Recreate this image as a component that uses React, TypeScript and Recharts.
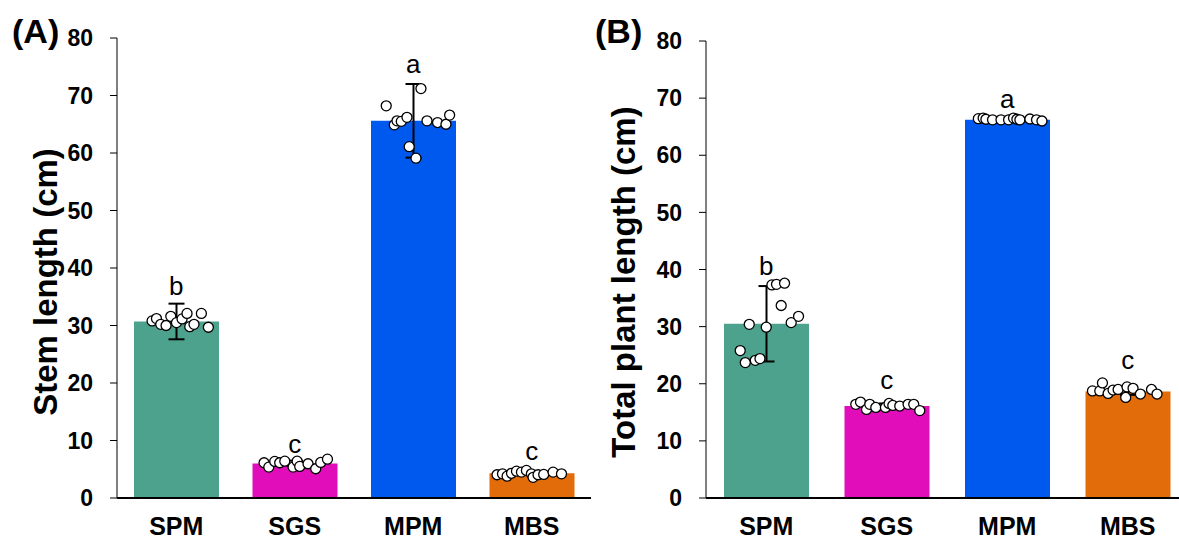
import React from 'react'
import { ComposedChart, Bar, Cell, ErrorBar, Scatter, XAxis, YAxis, Label } from 'recharts'

const categories = ['SPM', 'SGS', 'MPM', 'MBS']
const barColors = ['#4DA28E', '#E10DBA', '#0059EE', '#E36C0A']
const yTicks = [0, 10, 20, 30, 40, 50, 60, 70, 80]

// (A) stem length
const stemMean = [30.7, 6.0, 65.6, 4.3]
const stemSd = [3.1, 0.5, 6.4, 0.3]
const stemLetters = ['b', 'c', 'a', 'c']
const stemLetterY = [35.3, 7.8, 73.9, 6.6]
const stemDotOffsets = [
    [-0.204, -0.167, -0.131, -0.086, -0.046, 0.002, 0.049, 0.091, 0.114, 0.15, 0.212, 0.271],
    [-0.259, -0.219, -0.169, -0.127, -0.084, -0.014, 0.02, 0.042, 0.112, 0.177, 0.219, 0.276],
    [-0.228, -0.16, -0.137, -0.101, -0.053, -0.034, 0.023, 0.065, 0.116, 0.205, 0.276, 0.307],
    [-0.293, -0.247, -0.208, -0.171, -0.129, -0.087, -0.045, -0.003, 0.011, 0.053, 0.101, 0.18, 0.251],
]
const stemDotValues = [
    [30.8, 31.2, 30.2, 30.0, 31.6, 30.5, 31.15, 32.1, 29.8, 30.2, 32.1, 29.7],
    [6.13, 5.37, 6.36, 6.13, 6.41, 5.37, 6.41, 5.49, 5.96, 5.09, 6.18, 6.76],
    [68.2, 64.9, 65.6, 65.5, 66.2, 61.1, 59.1, 71.2, 65.6, 65.3, 65.0, 66.6],
    [4.04, 4.2, 3.8, 4.3, 4.67, 4.5, 4.8, 4.2, 3.6, 4.04, 4.1, 4.5, 4.2],
]

// (B) total plant length
const totalMean = [30.5, 16.1, 66.2, 18.65]
const totalSd = [6.6, 0.45, 0.2, 0.6]
const totalLetters = ['b', 'c', 'a', 'c']
const totalLetterY = [39.05, 19.0, 68.3, 22.6]
const totalDotOffsets = [
    [-0.216, -0.174, -0.141, -0.091, -0.052, 0.0, 0.047, 0.085, 0.124, 0.152, 0.207, 0.268],
    [-0.257, -0.218, -0.168, -0.141, -0.091, -0.011, 0.019, 0.05, 0.108, 0.177, 0.224, 0.274],
    [-0.24, -0.2, -0.177, -0.122, -0.052, 0.011, 0.052, 0.08, 0.105, 0.188, 0.243, 0.288],
    [-0.293, -0.232, -0.21, -0.163, -0.122, -0.08, -0.017, -0.006, 0.044, 0.105, 0.197, 0.243],
]
const totalDotValues = [
    [25.8, 23.7, 30.4, 24.1, 24.4, 29.9, 37.3, 37.4, 33.7, 37.6, 30.7, 31.8],
    [16.4, 16.8, 15.5, 16.4, 15.85, 15.85, 16.55, 16.2, 16.1, 16.4, 16.4, 15.3],
    [66.4, 66.5, 66.3, 66.2, 66.2, 66.2, 66.5, 66.3, 66.2, 66.35, 66.2, 66.0],
    [18.75, 18.75, 20.15, 18.3, 18.9, 19.0, 17.6, 19.45, 19.2, 18.2, 19.0, 18.2],
]

const FONT = '"Liberation Sans", Arial, sans-serif'

const Dot = (p: any) => <circle cx={p.cx} cy={p.cy} r={5} fill="#fff" stroke="#000" strokeWidth={1.3} />

const Letter = (p: any) => (
    <text x={p.cx} y={p.cy} textAnchor="middle" fontFamily={FONT} fontSize={26} fill="#000">
        {p.payload.letter}
    </text>
)

interface PanelProps {
    panel: string
    title: string
    means: number[]
    sds: number[]
    letters: string[]
    letterY: number[]
    dotOffsets: number[][]
    dotValues: number[][]
    width: number
    axisWidth: number
    top: number
    titleX: number
    panelX: number
}

function Panel({ panel, title, means, sds, letters, letterY, dotOffsets, dotValues, width, axisWidth, top, titleX, panelX }: PanelProps) {
    const bars = categories.map((name, i) => ({ name, mean: means[i], sd: sds[i] }))
    const dots = dotValues.flatMap((vals, i) => vals.map((v, j) => ({ x: i + dotOffsets[i][j], y: v })))
    const marks = letters.map((letter, i) => ({ x: i, y: letterY[i], letter }))

    const Titles = () => (
        <g>
            <text x={panelX} y={43} fontFamily={FONT} fontWeight="bold" fontSize={34} fill="#000">{panel}</text>
            <text
                x={titleX}
                y={282}
                transform={`rotate(-90, ${titleX}, 282)`}
                textAnchor="middle"
                fontFamily={FONT}
                fontWeight="bold"
                fontSize={33}
                fill="#000"
            >
                {title}
            </text>
        </g>
    )

    return (
        <ComposedChart width={width} height={542} data={bars} margin={{ top, right: 0, bottom: 0, left: 0 }}>
            <XAxis
                xAxisId="cat"
                dataKey="name"
                axisLine={{ stroke: '#000', strokeWidth: 2 }}
                tickLine={false}
                tickSize={0}
                tickMargin={19}
                height={44}
                tick={{ fontFamily: FONT, fontWeight: 'bold', fontSize: 25, fill: '#000' }}
            />
            <XAxis xAxisId="num" type="number" dataKey="x" domain={[-0.5, 3.5]} hide allowDataOverflow />
            <YAxis
                domain={[0, 80]}
                ticks={yTicks}
                width={axisWidth}
                axisLine={{ stroke: '#000', strokeWidth: 1 }}
                tickLine={{ stroke: '#000', strokeWidth: 1 }}
                tickSize={7}
                tickMargin={17}
                tick={{ fontFamily: FONT, fontWeight: 'bold', fontSize: 23, fill: '#000' }}
                label={<Titles />}
            />
            <Bar xAxisId="cat" dataKey="mean" barSize={85} isAnimationActive={false}>
                {bars.map((b, i) => (
                    <Cell key={b.name} fill={barColors[i]} />
                ))}
                <ErrorBar dataKey="sd" width={8} stroke="#000" strokeWidth={2} />
            </Bar>
            <Scatter xAxisId="num" data={dots} dataKey="y" shape={Dot} isAnimationActive={false} />
            <Scatter xAxisId="num" data={marks} dataKey="y" shape={Letter} isAnimationActive={false} />
        </ComposedChart>
    )
}

export default function App() {
    return (
        <div style={{ position: 'absolute', left: 0, top: 0, width: 1179, height: 542, overflow: 'hidden', background: '#fff' }}>
            <div style={{ position: 'absolute', left: 0, top: 0 }}>
                <Panel
                    panel="(A)"
                    title="Stem length (cm)"
                    means={stemMean}
                    sds={stemSd}
                    letters={stemLetters}
                    letterY={stemLetterY}
                    dotOffsets={stemDotOffsets}
                    dotValues={stemDotValues}
                    width={591}
                    axisWidth={117}
                    top={38}
                    titleX={57}
                    panelX={12}
                />
            </div>
            <div style={{ position: 'absolute', left: 590, top: 0 }}>
                <Panel
                    panel="(B)"
                    title="Total plant length (cm)"
                    means={totalMean}
                    sds={totalSd}
                    letters={totalLetters}
                    letterY={totalLetterY}
                    dotOffsets={totalDotOffsets}
                    dotValues={totalDotValues}
                    width={598}
                    axisWidth={116}
                    top={41}
                    titleX={45}
                    panelX={5}
                />
            </div>
        </div>
    )
}
